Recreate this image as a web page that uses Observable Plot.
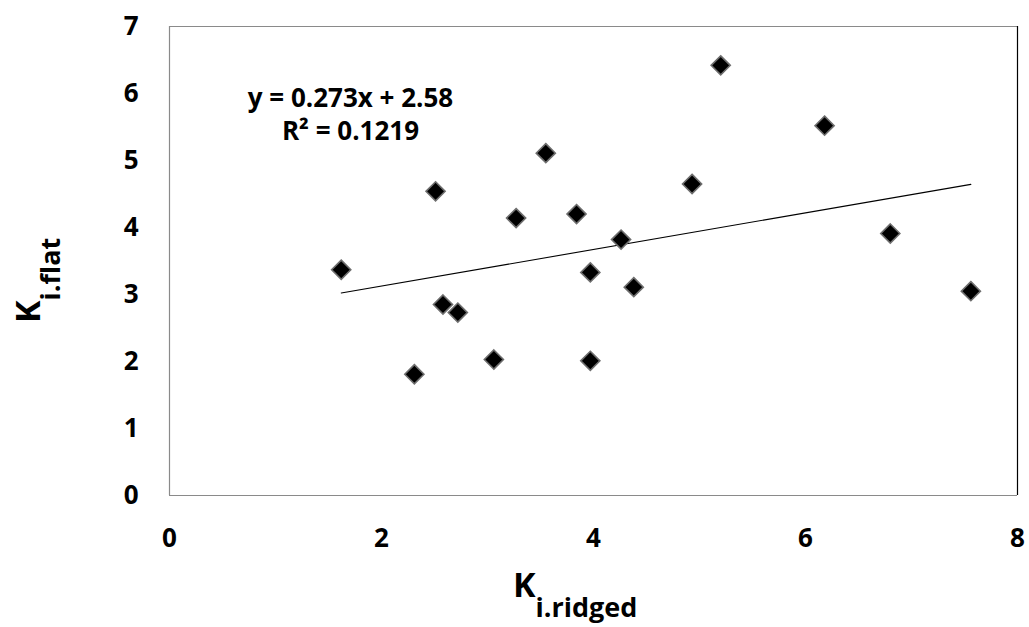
<!DOCTYPE html>
<html>
<head>
<meta charset="utf-8">
<script src="https://cdn.jsdelivr.net/npm/d3@7"></script>
<script src="https://cdn.jsdelivr.net/npm/@observablehq/plot@0.6"></script>
<style>
  html, body { margin: 0; padding: 0; background: #fff; }
  #chart svg { display: block; }
</style>
</head>
<body>
<div id="chart"></div>
<script>
// K_i.ridged (x) and K_i.flat (y)
const kRidged = [1.62, 2.51, 2.31, 2.58, 2.72, 3.06, 3.27, 3.55, 3.84, 3.97, 3.97, 4.26, 4.38, 4.93, 5.20, 6.18, 6.80, 7.56];
const kFlat   = [3.37, 4.54, 1.81, 2.85, 2.73, 2.03, 4.14, 5.11, 4.20, 3.33, 2.01, 3.82, 3.11, 4.65, 6.42, 5.52, 3.91, 3.05];
const xTicks = [0, 2, 4, 6, 8];
const yTicks = [0, 1, 2, 3, 4, 5, 6, 7];
const slope = 0.273, intercept = 2.58;
const equationLines = ["y = 0.273x + 2.58", "R² = 0.1219"];

const points = kRidged.map((x, i) => ({x, y: kFlat[i]}));
const xMin = d3.min(kRidged), xMax = d3.max(kRidged);
const trend = [xMin, xMax].map(x => ({x, y: slope * x + intercept}));

const font = "'Open Sans', sans-serif";

const plot = Plot.plot({
  width: 1029,
  height: 627,
  marginLeft: 169,
  marginRight: 12,
  marginTop: 26,
  marginBottom: 132,
  style: {fontFamily: font, fontSize: "26px", fontWeight: "bold", color: "#000", background: "#fff", overflow: "visible"},
  x: {domain: [0, 8], ticks: xTicks, tickFormat: "d", tickSize: 0, tickPadding: 33, label: null},
  y: {domain: [0, 7], ticks: yTicks, tickFormat: "d", tickSize: 0, tickPadding: 31, label: null},
  marks: [
    Plot.ruleX([0], {stroke: "#8a8a8a", strokeWidth: 1.2}),
    Plot.ruleY([0, 7], {stroke: "#8a8a8a", strokeWidth: 1.2}),
    Plot.ruleX([8], {stroke: "#000", strokeWidth: 1.2}),
    Plot.line(trend, {x: "x", y: "y", stroke: "#000", strokeWidth: 1.1}),
    Plot.dot(points, {x: "x", y: "y", symbol: "diamond2", r: 8.6, fill: "#000", stroke: "#6e6e6e", strokeWidth: 1.6}),
    Plot.text([equationLines[0]], {frameAnchor: "top-left", dx: 181, dy: 72.5, fontSize: 26, fontWeight: "bold", fill: "#000", textAnchor: "middle", lineAnchor: "middle"}),
    Plot.text([equationLines[1]], {frameAnchor: "top-left", dx: 181, dy: 105.5, fontSize: 26, fontWeight: "bold", fill: "#000", textAnchor: "middle", lineAnchor: "middle"})
  ]
});

const svg = d3.select(plot);
// x-axis title: K with subscript i.ridged
const xt = svg.append("text")
  .attr("x", 513).attr("y", 597).attr("text-anchor", "start")
  .attr("font-family", font).attr("font-weight", "bold").attr("fill", "#000");
xt.append("tspan").attr("font-size", 34).text("K");
xt.append("tspan").attr("font-size", 27).attr("dy", 20).text("i.ridged");

// y-axis title, rotated
const yt = svg.append("text")
  .attr("transform", "translate(40,323) rotate(-90)").attr("text-anchor", "start")
  .attr("font-family", font).attr("font-weight", "bold").attr("fill", "#000");
yt.append("tspan").attr("font-size", 34).text("K");
yt.append("tspan").attr("font-size", 27).attr("dy", 20).text("i.flat");

document.getElementById("chart").appendChild(plot);
</script>
</body>
</html>
